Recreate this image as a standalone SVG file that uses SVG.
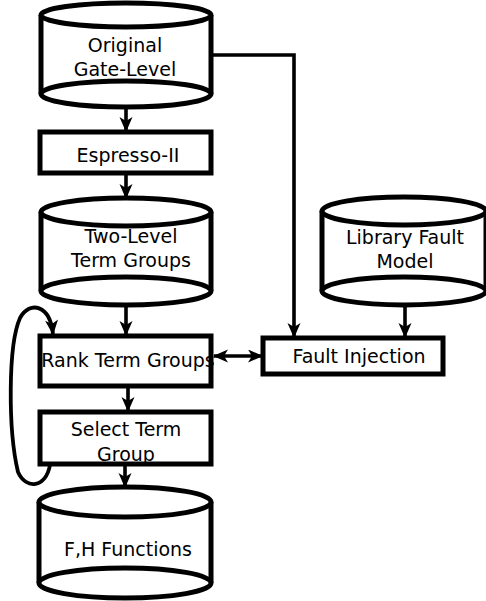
<svg xmlns="http://www.w3.org/2000/svg" width="486" height="601" viewBox="0 0 486 601">
<defs>
<marker id="ah" markerUnits="userSpaceOnUse" markerWidth="18" markerHeight="16" refX="14" refY="6.5" orient="auto-start-reverse">
<path d="M0,0 L15,6.5 L0,13 L4,6.5 z" fill="#000"/>
</marker>
<style>
.shape{fill:#fff;stroke:#000;stroke-width:5}
.conn{fill:none;stroke:#000;stroke-width:3.6}
text{font-family:"DejaVu Sans",sans-serif;font-size:19px;fill:#000;text-anchor:middle}
</style>
</defs>
<rect width="486" height="601" fill="#fff"/>
<g id="connectors">
<path class="conn" d="M126,108 V131" marker-end="url(#ah)"/>
<path class="conn" d="M126,173 V198" marker-end="url(#ah)"/>
<path class="conn" d="M126,305 V335" marker-end="url(#ah)"/>
<path class="conn" d="M128,386 V411" marker-end="url(#ah)"/>
<path class="conn" d="M125,464 V487" marker-end="url(#ah)"/>
<path class="conn" d="M211,55 H294 V337" marker-end="url(#ah)"/>
<path class="conn" d="M405,305 V337" marker-end="url(#ah)"/>
<path class="conn" d="M214,356 H262" marker-start="url(#ah)" marker-end="url(#ah)"/>
<path class="conn" style="stroke-width:3.8" d="M50,465 C46,488 26,490 18,472 C8,430 8,345 20,318 C30,300 50,305 53,334" marker-end="url(#ah)"/>
</g>
<g id="original">
<path class="shape" d="M41,15 V94 A85,13 0 0 0 211,94 V15"/>
<path class="shape" d="M41,94 A85,13 0 0 1 211,94"/>
<ellipse class="shape" cx="126" cy="15" rx="85" ry="12"/>
<text x="125" y="52">Original</text>
<text x="125" y="76">Gate-Level</text>
</g>
<g id="espresso">
<rect class="shape" x="40" y="132" width="171" height="41"/>
<text x="128" y="162">Espresso-II</text>
</g>
<g id="twolevel">
<path class="shape" d="M41,212 V291 A85,14 0 0 0 211,291 V212"/>
<path class="shape" d="M41,291 A85,14 0 0 1 211,291"/>
<ellipse class="shape" cx="126" cy="212" rx="85" ry="14"/>
<text x="131" y="243">Two-Level</text>
<text x="131" y="267">Term Groups</text>
</g>
<g id="library">
<path class="shape" d="M322,211 V291 A82,14 0 0 0 486,291 V211"/>
<path class="shape" d="M322,291 A82,14 0 0 1 486,291"/>
<ellipse class="shape" cx="404" cy="211" rx="82" ry="14"/>
<text x="405" y="244">Library Fault</text>
<text x="405" y="268">Model</text>
</g>
<g id="rank">
<rect class="shape" x="40" y="336" width="171" height="50"/>
<text x="128" y="367">Rank Term Groups</text>
</g>
<g id="fault">
<rect class="shape" x="263" y="338" width="180" height="36"/>
<text x="359" y="363">Fault Injection</text>
</g>
<g id="select">
<rect class="shape" x="40" y="412" width="171" height="52"/>
<text x="126" y="436">Select Term</text>
<text x="126" y="461">Group</text>
</g>
<g id="fh">
<path class="shape" d="M39,502 V583 A86,15 0 0 0 211,583 V502"/>
<path class="shape" d="M39,583 A86,15 0 0 1 211,583"/>
<ellipse class="shape" cx="125" cy="502" rx="86" ry="15"/>
<text x="128" y="556">F,H Functions</text>
</g>
</svg>
